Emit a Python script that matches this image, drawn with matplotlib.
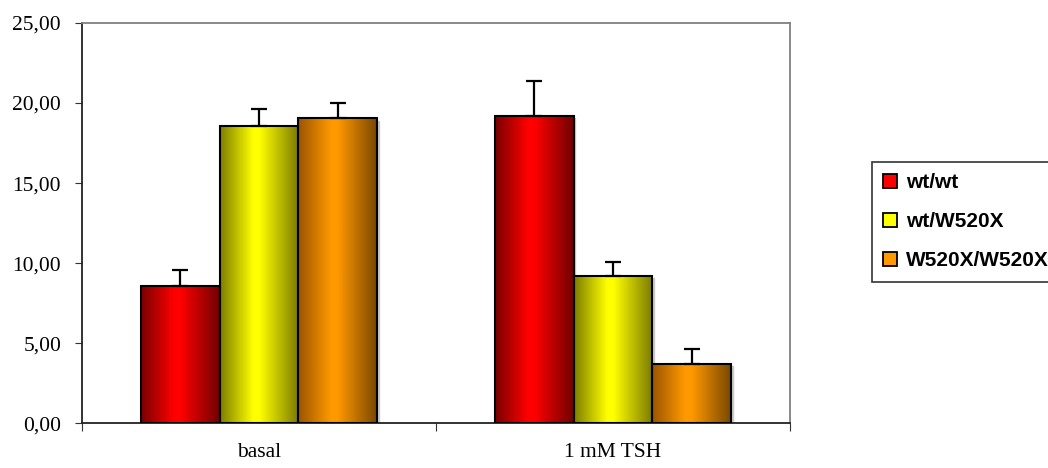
import numpy as np
import matplotlib
matplotlib.use("Agg")
import matplotlib.pyplot as plt
from matplotlib.colors import LinearSegmentedColormap
from matplotlib.patches import Patch

categories = ["basal", "1 mM TSH"]
series = ["wt/wt", "wt/W520X", "W520X/W520X"]
values = {
    "wt/wt": [8.55, 19.2],
    "wt/W520X": [18.55, 9.2],
    "W520X/W520X": [19.05, 3.7],
}
errors = {
    "wt/wt": [1.05, 2.2],
    "wt/W520X": [1.05, 0.85],
    "W520X/W520X": [0.95, 0.95],
}
yticks = [0, 5, 10, 15, 20, 25]
ytick_labels = ["0,00", "5,00", "10,00", "15,00", "20,00", "25,00"]

# dark edge -> bright middle -> dark edge, like the old excel fill
shades = {
    "wt/wt": ["#7a0000", "#ff0000", "#ff0000", "#700000"],
    "wt/W520X": ["#7d7d00", "#ffff00", "#ffff00", "#7a7a00"],
    "W520X/W520X": ["#9a5400", "#ff9900", "#ff9900", "#7a4800"],
}
mid = {"wt/wt": "#ff0000", "wt/W520X": "#ffff00", "W520X/W520X": "#ff9900"}

fig = plt.figure(figsize=(10.48, 4.68), dpi=100)
ax = fig.add_axes([0.0782, 0.0955, 0.6756, 0.8554])

w = 2 / 9
x = np.arange(len(categories))
for i, s in enumerate(series):
    pos = x + (i - 1) * w
    cmap = LinearSegmentedColormap.from_list(s, list(zip([0, 0.42, 0.5, 1], shades[s])))
    grad = np.linspace(0, 1, 256).reshape(1, -1)
    bars = ax.bar(pos, values[s], w, color="none", edgecolor="black", linewidth=1.5, zorder=3)
    for b in bars:
        x0, y0 = b.get_x(), b.get_y()
        bw, bh = b.get_width(), b.get_height()
        # light shadow on the right side
        ax.add_patch(plt.Rectangle((x0 + bw, 0), 0.005, bh - 0.15, color="#c8c8c8", zorder=1))
        im = ax.imshow(grad, cmap=cmap, aspect="auto", extent=[x0, x0 + bw, y0, y0 + bh], zorder=2)
        im.set_clip_path(b)
    ax.errorbar(pos, values[s], yerr=[np.zeros(len(pos)), errors[s]], fmt="none",
                ecolor="black", elinewidth=1.6, capsize=6, capthick=1.6, zorder=4)

ax.set_xlim(-0.5, 1.5)
ax.set_ylim(0, 25)
ax.set_yticks(yticks)
ax.set_yticklabels(ytick_labels, family="Liberation Serif", fontsize=15.5)
ax.set_xticks([-0.5, 0.5, 1.5])
ax.set_xticklabels([])
ax.set_xticks(x, minor=True)
ax.set_xticklabels(categories, minor=True, family="Liberation Serif", fontsize=15.5)
ax.tick_params(axis="x", which="minor", length=0, pad=14)
ax.tick_params(axis="x", which="major", length=6, color="#333333")
ax.tick_params(axis="y", length=5, color="#333333", pad=10)
ax.spines["top"].set_color("#808080")
ax.spines["right"].set_color("#808080")
ax.spines["left"].set_color("#222222")
ax.spines["bottom"].set_color("#222222")
for sp in ax.spines.values():
    sp.set_linewidth(1.3)

handles = [Patch(facecolor=mid[s], edgecolor="black", linewidth=1.3) for s in series]
leg = fig.legend(handles, series, loc="upper left", bbox_to_anchor=(872 / 1048, 1 - 162 / 468),
                 prop={"family": "Liberation Sans", "weight": "bold", "size": 15},
                 frameon=True, fancybox=False, borderpad=0.55, labelspacing=0.95,
                 handlelength=0.65, handleheight=0.65, handletextpad=0.45, borderaxespad=0)
leg.get_frame().set_edgecolor("black")
leg.get_frame().set_linewidth(1.2)

fig.savefig("out.png", dpi=100)
